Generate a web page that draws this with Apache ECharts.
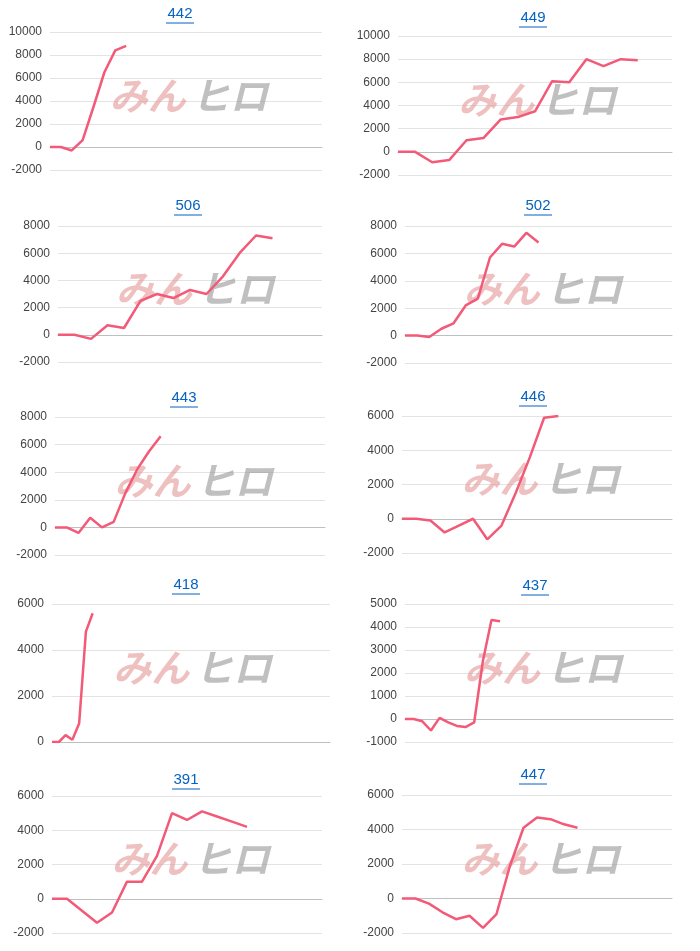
<!DOCTYPE html>
<html>
<head>
<meta charset="utf-8">
<script src="https://cdn.jsdelivr.net/npm/echarts@6/dist/echarts.min.js"></script>
<style>
	html, body { margin: 0; padding: 0; background: #fff; }
	#main { width: 700px; height: 951px; }
</style>
</head>
<body>
<div id="main"></div>
<script>
var titles = ["442", "449", "506", "502", "443", "446", "418", "437", "391", "447"];

// 各台の差枚推移
var data442 = [0, 0, -300, 600, 3500, 6500, 8400, 8800];
var data449 = [0, 0, -900, -700, 1000, 1200, 2800, 3000, 3500, 6100, 6000, 8000, 7400, 8000, 7900];
var data506 = [0, 0, -300, 700, 500, 2500, 3000, 2700, 3300, 3000, 4300, 6000, 7300, 7100];
var data502 = [0, 0, -100, 500, 900, 2200, 2700, 5700, 6700, 6500, 7500, 6800];
var data443 = [0, 0, -400, 700, 0, 400, 2500, 4200, 5500, 6600];
var data446 = [0, 0, -100, -800, -400, 0, -1200, -400, 1500, 3600, 5900, 6000];
var data418 = [0, 0, 300, 100, 800, 4800, 5600];
var data437 = [0, 0, -100, -500, 50, -150, -300, -350, -150, 2500, 4300, 4250];
var data391 = [0, 0, -700, -1400, -800, 1000, 1000, 2500, 5000, 4600, 5100, 4800, 4500, 4200];
var data447 = [0, 0, -300, -800, -1200, -1000, -1700, -900, 1900, 4100, 4700, 4600, 4300, 4100];
var seriesData = [data442, data449, data506, data502, data443, data446, data418, data437, data391, data447];

// 横軸のゲーム数区切り数
var catCounts = [26, 17, 17, 23, 24, 20, 42, 32, 19, 21];
// 縦軸 [min, max, interval]
var yRanges = [
	[-2000, 10000, 2000], [-2000, 10000, 2000],
	[-2000, 8000, 2000], [-2000, 8000, 2000],
	[-2000, 8000, 2000], [-2000, 6000, 2000],
	[0, 6000, 2000], [-1000, 5000, 1000],
	[-2000, 6000, 2000], [-2000, 6000, 2000]
];

// [left, top, right, bottom] 画面座標
var boxes = [
	[50, 32, 322, 170], [398, 36, 672, 175],
	[58, 226, 322, 362], [405, 226, 672, 363],
	[55, 417, 325, 555], [402, 416, 672, 553],
	[52, 604, 330, 742], [405, 604, 673, 742],
	[52, 796, 322, 933], [402, 795, 672, 933]
];
var titleX = [180, 533, 188, 538, 184, 533, 186, 535, 186, 533];
var titleY = [14, 18, 206, 206, 398, 397, 585, 586, 780, 775];

var grids = [], xAxes = [], yAxes = [], series = [], graphics = [];

for (var i = 0; i < titles.length; i++) {
	var b = boxes[i];
	grids.push({ left: b[0], top: b[1], width: b[2] - b[0], height: b[3] - b[1] });

	var cats = [];
	for (var k = 0; k < catCounts[i]; k++) cats.push(k + 1);

	xAxes.push({
		type: "category", gridIndex: i, data: cats, boundaryGap: false,
		axisLine: { onZero: true, lineStyle: { color: "#bfbfbf" } },
		axisTick: { show: false }, axisLabel: { show: false }
	});
	yAxes.push({
		type: "value", gridIndex: i,
		min: yRanges[i][0], max: yRanges[i][1], interval: yRanges[i][2],
		axisLine: { show: false }, axisTick: { show: false },
		axisLabel: { color: "#444", fontSize: 12, fontFamily: "Liberation Sans", margin: 8,
			formatter: function (v) { return String(v); } },
		splitLine: { lineStyle: { color: "#e3e3e3" } }
	});
	series.push({
		type: "line", xAxisIndex: i, yAxisIndex: i, data: seriesData[i],
		showSymbol: false, lineStyle: { color: "#f25a78", width: 2.5 },
		itemStyle: { color: "#f25a78" }, z: 3
	});

	graphics.push({
		type: "text", x: titleX[i], y: titleY[i], z: 10,
		style: { text: titles[i], fill: "#0563c1", font: "15px 'Liberation Sans'",
			align: "center", verticalAlign: "middle" }
	});
	graphics.push({
		type: "line", z: 10,
		shape: { x1: titleX[i] - 14, y1: titleY[i] + 9, x2: titleX[i] + 14, y2: titleY[i] + 9 },
		style: { stroke: "#0563c1", lineWidth: 1 }
	});

	// ウォーターマーク
	var wx = b[0] + (b[2] - b[0]) * 0.22;
	var wy = b[1] + (b[3] - b[1]) * 0.32;
	graphics.push({
		type: "text", left: wx, top: wy, z: 1,
		style: { text: "みん", fill: "rgba(226,150,150,0.6)", font: "italic bold 38px 'Noto Sans CJK JP'" }
	});
	graphics.push({
		type: "text", left: wx + 82, top: wy, z: 1,
		style: { text: "ヒロ", fill: "rgba(150,150,150,0.6)", font: "italic bold 38px 'Noto Sans CJK JP'" }
	});
}

var chart = echarts.init(document.getElementById("main"));
chart.setOption({
	animation: false,
	grid: grids, xAxis: xAxes, yAxis: yAxes, series: series, graphic: graphics
});
</script>
</body>
</html>
